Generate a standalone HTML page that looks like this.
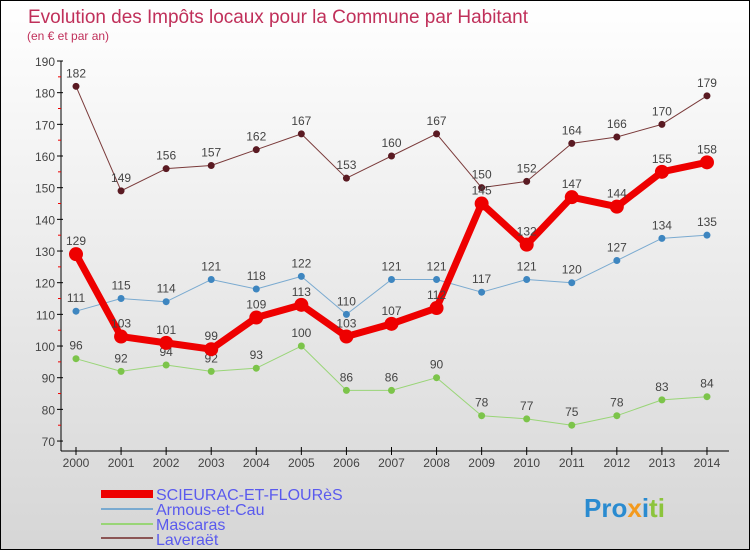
<!DOCTYPE html>
<html><head><meta charset="utf-8"><style>
body{margin:0;}
#c{width:748px;height:548px;border:1px solid #000;background:linear-gradient(#fff,#d6d6d6);position:relative;overflow:hidden;font-family:"Liberation Sans",sans-serif;}
</style></head><body>
<div id="c">
<svg id="s" width="748" height="548" xmlns="http://www.w3.org/2000/svg">
<text x="27" y="22" font-size="19" fill="#c0305a" textLength="500">Evolution des Impôts locaux pour la Commune par Habitant</text>
<text x="26" y="39" font-size="12" fill="#c0305a">(en € et par an)</text>
<g id="axes"></g><g id="series"></g>
<g font-size="16" fill="#5a5aee">
<rect x="100" y="489" width="52" height="8" fill="#e00"/>
<text x="155" y="499">SCIEURAC-ET-FLOURèS</text>
<rect x="100" y="507" width="52" height="2" fill="#7aaad0"/>
<text x="155" y="514">Armous-et-Cau</text>
<rect x="100" y="522" width="52" height="2" fill="#99d577"/>
<text x="155" y="529">Mascaras</text>
<rect x="100" y="536" width="52" height="2" fill="#8b5555"/>
<text x="155" y="544">Laveraët</text>
</g>
<text x="583" y="516" font-size="26" font-weight="bold"><tspan fill="#2a8bd0">Pro</tspan><tspan fill="#f39a1e">x</tspan><tspan fill="#2a8bd0">i</tspan><tspan fill="#8cc43c">ti</tspan></text>
</svg>
</div>
<script>
const years=[2000,2001,2002,2003,2004,2005,2006,2007,2008,2009,2010,2011,2012,2013,2014];
const scieurac=[129,103,101,99,109,113,103,107,112,145,132,147,144,155,158];
const armous=[111,115,114,121,118,122,110,121,121,117,121,120,127,134,135];
const mascaras=[96,92,94,92,93,100,86,86,90,78,77,75,78,83,84];
const laveraet=[182,149,156,157,162,167,153,160,167,150,152,164,166,170,179];
const yTicks=[70,80,90,100,110,120,130,140,150,160,170,180,190];
const NS="http://www.w3.org/2000/svg";
const X=i=>75+i*45.07;
const Y=v=>60+(190-v)*3.167;
function mk(t,a,p){const e=document.createElementNS(NS,t);for(const k in a)e.setAttribute(k,a[k]);p.appendChild(e);return e;}
const ax=document.getElementById('axes');
mk('line',{x1:60,y1:Y(190),x2:60,y2:450,stroke:'#000'},ax);
mk('line',{x1:60,y1:450,x2:728,y2:450,stroke:'#000'},ax);
yTicks.forEach(v=>{
 mk('line',{x1:56,y1:Y(v),x2:62,y2:Y(v),stroke:'#000'},ax);
 const t=mk('text',{x:54,y:Y(v)+5,'font-size':12,fill:'#444','text-anchor':'end'},ax);t.textContent=v;
 
 
 if(v<190) mk('line',{x1:57,y1:Y(v+5),x2:60,y2:Y(v+5),stroke:'#e00'},ax);
});
years.forEach((y,i)=>{
 mk('line',{x1:X(i),y1:446,x2:X(i),y2:454,stroke:'#000'},ax);
 const t=mk('text',{x:X(i),y:466,'font-size':12,fill:'#444','text-anchor':'middle'},ax);t.textContent=y;
 
 
});
const sg=document.getElementById('series');
function draw(d,name,color,dot,w,r){
 const g=mk('g',{},sg);
 
 
 mk('polyline',{points:d.map((v,i)=>X(i)+','+Y(v)).join(' '),fill:'none',stroke:color,'stroke-width':w,'stroke-linejoin':'round'},g);
 d.forEach((v,i)=>{
  const c=mk('circle',{cx:X(i),cy:Y(v),r:r,fill:dot},g);
  
  
  const t=mk('text',{x:X(i),y:Y(v)-9,'font-size':12,fill:'#444','text-anchor':'middle'},g);t.textContent=v;
  
  
 });
}
draw(mascaras,'mascaras','#99d577','#7cc44a',1,3.5);
draw(armous,'armous','#7aaad0','#3e86c0',1,3.5);
draw(laveraet,'laveraet','#7a3a3a','#5a1a22',1,3.5);
draw(scieurac,'scieurac','#e00','#e00',7,7);
</script>
</body></html>
